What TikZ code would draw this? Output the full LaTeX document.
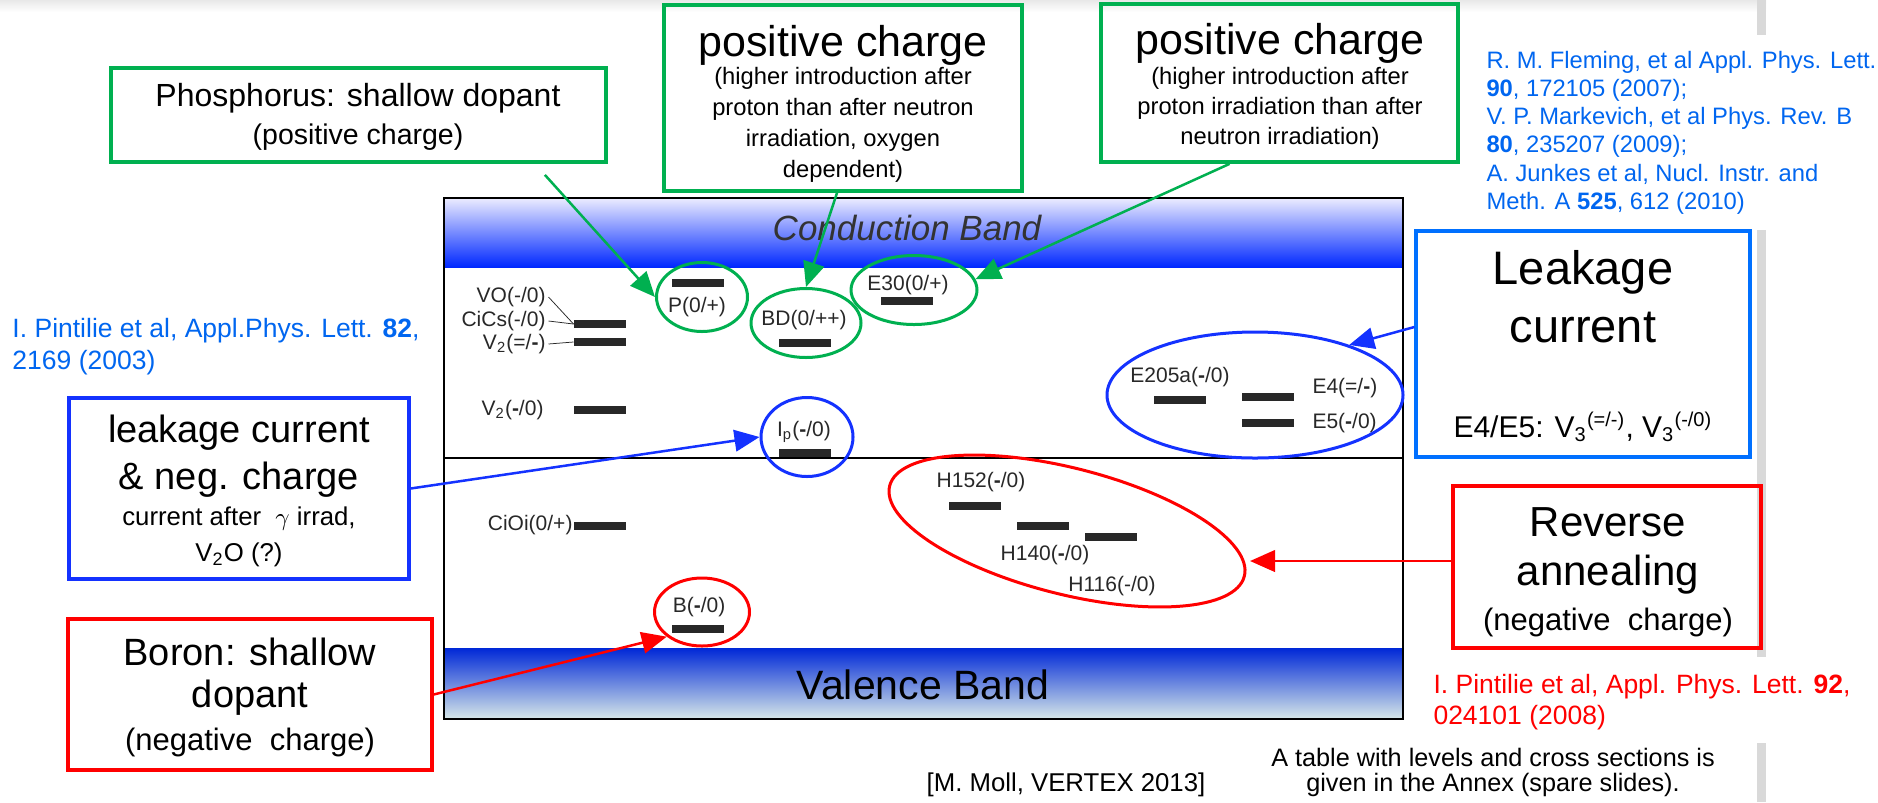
\documentclass[tikz,border=0pt]{standalone}
\usepackage{fontspec}
\setmainfont{Liberation Sans}
\usetikzlibrary{shapes.geometric, positioning, calc, arrows.meta}

\definecolor{slidegreen}{RGB}{0,176,80}
\definecolor{boxblue}{RGB}{20,50,255}
\definecolor{lkblue}{RGB}{0,112,255}
\definecolor{refblue}{RGB}{0,102,240}
\definecolor{slidered}{RGB}{255,0,0}
\definecolor{cbtop}{RGB}{236,236,255}
\definecolor{cbmid}{RGB}{128,128,255}
\definecolor{cbbot}{RGB}{0,40,255}
\definecolor{vbtop}{RGB}{0,40,215}
\definecolor{vbmid}{RGB}{125,125,250}
\definecolor{vbbot}{RGB}{215,232,232}
\definecolor{lvlgray}{RGB}{40,40,40}

\newcommand{\bminus}{\textbf{-}}

\begin{document}
\begin{tikzpicture}[x=0.4pt, y=0.4pt]
  \newcommand\pxu{0.4pt}

  \tikzset{ptr/.style={-{Triangle[length=10pt, width=8.6pt]}, line width=1pt}}

  \tikzset{slidebox/.style={draw, rectangle, line width=1.3pt, inner sep=0}}
  \tikzset{gbox/.style={slidebox, draw=slidegreen, line width=1.5pt}}
  \tikzset{bbox/.style={slidebox, draw=boxblue}}
  \tikzset{lkbbox/.style={slidebox, draw=lkblue}}
  \tikzset{rbox/.style={slidebox, draw=slidered}}

  \tikzset{ring/.style={ellipse, draw, line width=1.2pt, inner sep=0}}
  \tikzset{lvlbar/.style={fill=lvlgray, minimum width=52*\pxu, minimum height=8*\pxu, inner sep=0}}
  \tikzset{lvl/.style={text=lvlgray, inner sep=0, font=\fontsize{8.4}{10}\selectfont}}

  \tikzset{txt/.style={inner sep=0, text=black}}
  \tikzset{gbig/.style={txt, font=\fontsize{17.2}{20}\selectfont}}
  \tikzset{gsub/.style={txt, font=\fontsize{9.5}{11}\selectfont}}
  \tikzset{boxbig/.style={txt, font=\fontsize{15.2}{18}\selectfont}}
  \tikzset{boxsub/.style={txt, font=\fontsize{12.4}{14}\selectfont}}
  \tikzset{reftxt/.style={inner sep=0, anchor=west, font=\fontsize{10.6}{12}\selectfont}}
  \tikzset{notetxt/.style={txt, font=\fontsize{10.3}{12}\selectfont}}

  \useasboundingbox (0,0) rectangle (1878,-802);
  \fill[white] (0,0) rectangle (1878,-802);

  % slide leftovers
  \shade[top color=black!9, bottom color=white] (0,0) rectangle (1766,-12);
  \foreach \ytop/\ybot in {0/35, 230/657, 743/802}{
    \fill[black!15] (1757,-\ytop) rectangle (1766,-\ybot);
  }

  % band diagram
  \shade[top color=cbtop, middle color=cbmid, bottom color=cbbot] (444,-198) rectangle (1403,-267);
  \shade[top color=vbtop, middle color=vbmid, bottom color=vbbot] (444,-648) rectangle (1403,-719);
  \draw[line width=0.8pt] (444,-198) rectangle (1403,-719);
  \draw[line width=0.8pt] (444,-458) -- (1403,-458);
  \node[txt, text=black!80, font=\fontsize{14}{16}\selectfont\itshape] (cb-lbl) at (907,-228) {Conduction Band};
  \node[txt, font=\fontsize{16.4}{18}\selectfont] (vb-lbl) at (923,-685) {Valence Band};

  % levels
  \foreach \name/\bx/\by in {cics/600/324, vtwoa/600/342, vtwob/600/410, cioi/600/526,
      p/698/283, bd/805/343, ethirty/907/301, ip/805/453, b/698/629,
      eta/1180/400, efour/1268/397, efive/1268/423,
      hft/975/506, hfo/1043/526, hsix/1111/537}{
    \node[lvlbar] (bar-\name) at (\bx,-\by) {};
  }

  \node[lvl, anchor=east] (lbl-vo) at (546,-297) {VO(-/0)};
  \node[lvl, anchor=east] (lbl-cics) at (546,-321) {CiCs(-/0)};
  \node[lvl, anchor=east] (lbl-vtwoa) at (546,-344) {V\textsubscript{2}(=/\bminus)};
  \node[lvl, anchor=east] (lbl-vtwob) at (544,-410) {V\textsubscript{2}(\bminus/0)};
  \node[lvl, anchor=east] (lbl-cioi) at (573,-525) {CiOi(0/+)};
  \node[lvl] (lbl-p) at (697,-307) {P(0/+)};
  \node[lvl] (lbl-bd) at (804,-320) {BD(0/++)};
  \node[lvl] (lbl-ethirty) at (908,-285) {E30(0/+)};
  \node[lvl] (lbl-ip) at (804,-432) {I\textsubscript{p}(\bminus/0)};
  \node[lvl] (lbl-eta) at (1180,-377) {E205a(\bminus/0)};
  \node[lvl, anchor=west] (lbl-efour) at (1312,-388) {E4(=/\bminus)};
  \node[lvl, anchor=west] (lbl-efive) at (1312,-423) {E5(\bminus/0)};
  \node[lvl] (lbl-hft) at (981,-482) {H152(\bminus/0)};
  \node[lvl] (lbl-hfo) at (1045,-555) {H140(\bminus/0)};
  \node[lvl] (lbl-hsix) at (1112,-586) {H116(-/0)};
  \node[lvl] (lbl-b) at (699,-607) {B(\bminus/0)};

  \draw[lvlgray, line width=0.3pt] ([xshift=1pt]lbl-vo.east) -- (bar-cics.west);
  \draw[lvlgray, line width=0.3pt] ([xshift=1pt]lbl-cics.east) -- (bar-cics.west);
  \draw[lvlgray, line width=0.3pt] ([xshift=1pt]lbl-vtwoa.east) -- (bar-vtwoa.west);

  % rings round the levels
  \node[ring, draw=slidegreen, minimum width=91*\pxu, minimum height=69*\pxu] (pcirc) at (702,-297) {};
  \node[ring, draw=slidegreen, minimum width=110*\pxu, minimum height=69*\pxu] (bdcirc) at (806,-323) {};
  \node[ring, draw=slidegreen, minimum width=126*\pxu, minimum height=69*\pxu] (ecirc) at (914,-290) {};
  \node[ring, draw=boxblue, minimum width=92*\pxu, minimum height=79*\pxu] (ipcirc) at (807,-437) {};
  \node[ring, draw=slidered, minimum width=95*\pxu, minimum height=68*\pxu] (bcirc) at (702,-612) {};
  \node[ring, draw=boxblue, minimum width=296*\pxu, minimum height=126*\pxu] (eell) at (1255,-395) {};
  \node[ring, draw=slidered, minimum width=366*\pxu, minimum height=126*\pxu, rotate=-14.3] (hell) at (1067,-531) {};

  % green boxes
  \node[gbox, minimum width=495*\pxu, minimum height=94*\pxu] (phos) at (358.5,-115) {};
  \node[txt, font=\fontsize{12.8}{15}\selectfont] (phos-t1) at (358,-98) {Phosphorus: shallow dopant};
  \node[txt, font=\fontsize{11.4}{13}\selectfont] (phos-t2) at (358,-137) {(positive charge)};

  \node[gbox, minimum width=358*\pxu, minimum height=186*\pxu] (midbox) at (843,-98) {};
  \node[gbig] (mid-t) at (843,-45) {positive charge};
  \foreach \line [count=\i from 0] in {{(higher introduction after}, {proton than after neutron}, {irradiation, oxygen}, {dependent)}}{
    \node[gsub] (mid-sub-\i) at (843,-78-31*\i) {\line};
  }

  \node[gbox, minimum width=357*\pxu, minimum height=158*\pxu] (rtbox) at (1279.5,-83) {};
  \node[gbig] (rt-t) at (1280,-43) {positive charge};
  \foreach \line [count=\i from 0] in {{(higher introduction after}, {proton irradiation than after}, {neutron irradiation)}}{
    \node[gsub] (rt-sub-\i) at (1280,-78-30*\i) {\line};
  }

  % blue boxes
  \node[bbox, minimum width=340*\pxu, minimum height=181*\pxu] (lcbox) at (239,-488.5) {};
  \node[boxbig] (lc-t1) at (239,-433) {leakage current};
  \node[boxbig] (lc-t2) at (239,-480) {\& neg. charge};
  \node[txt, font=\fontsize{10.3}{12}\selectfont] (lc-t3) at (239,-519) {current after\ \ $\gamma$ irrad,};
  \node[txt, font=\fontsize{10.3}{12}\selectfont] (lc-t4) at (239,-555) {V\textsubscript{2}O (?)};

  \node[lkbbox, minimum width=334*\pxu, minimum height=226*\pxu] (lkbox) at (1583,-344) {};
  \node[txt, font=\fontsize{18.8}{22}\selectfont] (lk-t1) at (1583,-272) {Leakage};
  \node[txt, font=\fontsize{18.8}{22}\selectfont] (lk-t2) at (1583,-328) {current};
  \node[txt, font=\fontsize{12}{14}\selectfont] (lk-t3) at (1583,-427) {E4/E5: V\textsubscript{3}\textsuperscript{(=/-)}, V\textsubscript{3}\textsuperscript{(-/0)}};

  % red boxes
  \node[rbox, minimum width=364*\pxu, minimum height=151*\pxu] (boron) at (250,-694.5) {};
  \node[boxbig] (boron-t1) at (250,-652) {Boron: shallow};
  \node[boxbig] (boron-t2) at (250,-698) {dopant};
  \node[boxsub] (boron-t3) at (250,-742) {(negative\ \ charge)};

  \node[rbox, minimum width=308*\pxu, minimum height=162*\pxu] (rabox) at (1607,-567) {};
  \node[txt, font=\fontsize{16.8}{20}\selectfont] (ra-t1) at (1608,-522) {Reverse};
  \node[txt, font=\fontsize{16.8}{20}\selectfont] (ra-t2) at (1608,-575) {annealing};
  \node[boxsub] (ra-t3) at (1608,-622) {(negative\ \ charge)};

  % arrows
  \coordinate (phos-tail) at ($(phos.south east)+(-63,-11)$);
  \draw[ptr, slidegreen] (phos-tail) -- (pcirc.west);
  \draw[ptr, slidegreen] ([xshift=-2.4pt]midbox.south) -- (bdcirc.north);
  \draw[ptr, slidegreen] ([xshift=-20pt]rtbox.south) -- (ecirc.10);
  \draw[ptr, boxblue] (lcbox.east) -- (ipcirc.west);
  \draw[ptr, boxblue] ([yshift=6.8pt]lkbox.west) -- (eell.28);
  \draw[ptr, slidered] (boron.east) -- (bcirc.215);
  \coordinate (hell-tip) at (1250,-561);
  \draw[ptr, slidered] (rabox.west |- hell-tip) -- (hell-tip);

  % references
  \node[reftxt, text=refblue] (ref-pin-a) at (12,-331) {I. Pintilie et al, Appl.Phys. Lett. \textbf{82},};
  \node[reftxt, text=refblue] (ref-pin-b) at (12,-363) {2169 (2003)};
  \foreach \line [count=\i from 0] in {{R. M. Fleming, et al Appl. Phys. Lett.}, {\textbf{90}, 172105 (2007);},
      {V. P. Markevich, et al Phys. Rev. B}, {\textbf{80}, 235207 (2009);},
      {A. Junkes et al, Nucl. Instr. and}, {Meth. A \textbf{525}, 612 (2010)}}{
    \node[reftxt, text=refblue, font=\fontsize{9.5}{11}\selectfont] (ref-top-\i) at (1486,-62-28.2*\i) {\line};
  }
  \node[reftxt, text=slidered] (ref-red-a) at (1433,-687) {I. Pintilie et al, Appl. Phys. Lett. \textbf{92},};
  \node[reftxt, text=slidered] (ref-red-b) at (1433,-718) {024101 (2008)};

  \node[notetxt] (moll) at (1066,-785) {[M. Moll, VERTEX 2013]};
  \node[notetxt, font=\fontsize{10.1}{12}\selectfont] (annex-a) at (1493,-757) {A table with levels and cross sections is};
  \node[notetxt, font=\fontsize{10.1}{12}\selectfont] (annex-b) at (1493,-785) {given in the Annex (spare slides).};
\end{tikzpicture}
\end{document}
